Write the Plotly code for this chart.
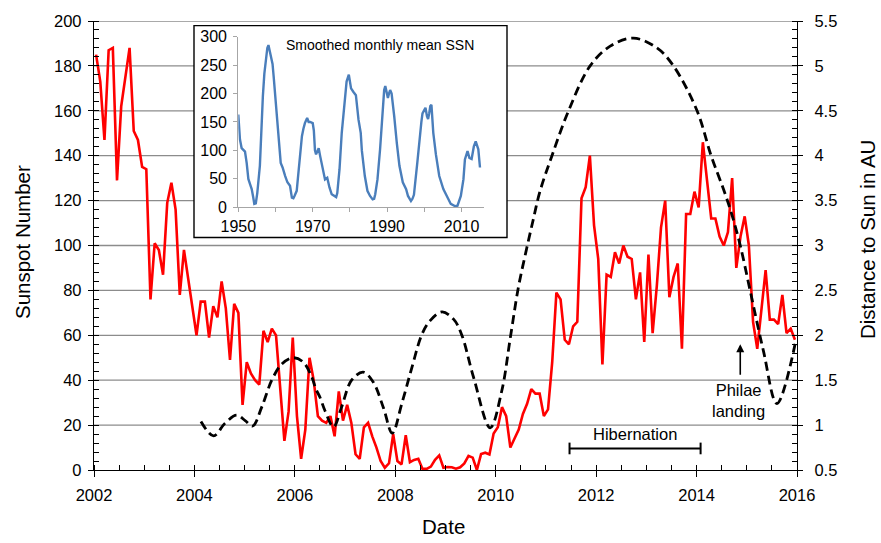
import plotly.graph_objects as go

FONT = "Arial, 'Liberation Sans', sans-serif"

# ---------------------------------------------------------------- data
# Monthly mean sunspot number, January 2002 - December 2015 (one row per year)
ssn_first_year = 2002
sunspot_number = [
    185, 173, 147, 187, 188, 129, 162, 175, 188, 151, 147, 135,   # 2002
    134, 76, 101, 98, 87, 119, 128, 116, 78, 98, 85, 73,          # 2003
    60, 75, 75, 59, 73, 68, 84, 72, 49, 74, 70, 29,               # 2004
    48, 43, 40, 38, 62, 57, 63, 60, 37, 13, 26, 59,               # 2005
    24, 5, 18, 50, 40, 24, 22, 21, 24, 15, 35, 22,                # 2006
    29, 21, 7, 5, 19, 21, 15, 10, 4, 1, 3, 16,                    # 2007
    4, 2.5, 15.5, 3.5, 4.5, 5, 0.5, 0.5, 1.5, 4.5, 6.5, 1,        # 2008
    1.3, 1.2, 0.6, 1.2, 2.9, 6.3, 5.5, 0, 7.1, 7.7, 6.9, 16.3,    # 2009
    19, 28, 24, 10, 14, 18, 25, 29.5, 36, 34, 34, 24,             # 2010
    27, 48, 79, 76, 58, 56, 64, 66, 121, 126, 140, 109,           # 2011
    94, 47, 87, 86, 97, 92, 100, 95, 94, 76, 88, 57,              # 2012
    96, 61, 82, 108, 120, 77, 86, 92, 54, 114, 114, 124,          # 2013
    117, 146, 129, 112, 112, 104, 100, 106, 130, 90, 104, 113,    # 2014
    100, 66, 54, 72, 89, 67, 67, 65, 78, 61, 63, 58,              # 2015
]

# Rosetta heliocentric distance (AU)
rosetta_year = [
    2004.13, 2004.38, 2004.61, 2004.84, 2005.01, 2005.16, 2005.34, 2005.54,
    2005.74, 2005.97, 2006.17, 2006.34, 2006.42, 2006.50, 2006.60, 2006.77,
    2006.93, 2007.13, 2007.36, 2007.56, 2007.76, 2007.94, 2008.13, 2008.33,
    2008.53, 2008.69, 2008.93, 2009.16, 2009.32, 2009.56, 2009.89, 2010.12,
    2010.29, 2010.45, 2010.59, 2010.74, 2010.88, 2011.12, 2011.45, 2011.88,
    2012.28, 2012.74, 2013.21, 2013.54, 2014.01, 2014.29, 2014.54, 2014.70,
    2014.87, 2015.07, 2015.33, 2015.60, 2015.98,
]
rosetta_au = [
    1.04, 0.88, 1.02, 1.11, 1.05, 0.99, 1.20, 1.50,
    1.68, 1.75, 1.70, 1.53, 1.40, 1.31, 1.16, 0.98,
    1.20, 1.50, 1.59, 1.48, 1.20, 0.91, 1.24, 1.64,
    2.01, 2.16, 2.26, 2.18, 2.01, 1.53, 0.97, 1.38,
    1.97, 2.53, 2.90, 3.27, 3.60, 4.00, 4.50, 5.00,
    5.22, 5.31, 5.20, 5.00, 4.50, 4.00, 3.62, 3.35,
    3.00, 2.49, 1.83, 1.24, 1.95,
]

# Smoothed monthly mean sunspot number, 1950 - 2015
smoothed_year = [
    1950.0, 1950.45, 1950.9, 1951.5, 1951.8, 1952.25, 1952.7, 1953.2, 1953.6,
    1954.0, 1954.3, 1954.7, 1955.1, 1955.8, 1956.2, 1956.6, 1957.0, 1957.4,
    1957.8, 1958.1, 1958.4, 1958.7, 1959.2, 1959.5, 1959.9, 1960.5, 1961.0,
    1961.4, 1961.9, 1962.3, 1962.6, 1963.2, 1963.9, 1964.4, 1964.8, 1965.1,
    1965.7, 1966.0, 1966.4, 1966.8, 1967.1, 1967.5, 1967.9, 1968.5, 1968.9,
    1969.3, 1970.0, 1970.3, 1970.6, 1970.9, 1971.3, 1971.6, 1972.0, 1972.4,
    1972.7, 1973.1, 1973.3, 1973.9, 1974.3, 1974.5, 1975.1, 1975.8, 1976.3,
    1976.6, 1977.2, 1977.8, 1978.5, 1979.1, 1979.7, 1980.0, 1980.3, 1980.9,
    1981.3, 1981.6, 1982.3, 1982.9, 1983.2, 1983.4, 1984.0, 1984.7, 1985.4,
    1986.1, 1986.5, 1986.8, 1987.4, 1988.1, 1988.7, 1989.2, 1989.5, 1989.9,
    1990.2, 1990.5, 1990.8, 1991.2, 1991.4, 1991.9, 1992.6, 1993.3, 1994.2,
    1995.1, 1995.6, 1996.0, 1996.4, 1996.8, 1997.2, 1998.1, 1998.7, 1999.2,
    1999.5, 2000.0, 2000.3, 2000.7, 2001.0, 2001.3, 2001.6, 2001.9, 2002.4,
    2003.1, 2004.0, 2005.1, 2006.0, 2007.1, 2008.3, 2008.9, 2009.8, 2010.5,
    2010.9, 2011.6, 2012.1, 2012.7, 2013.3, 2013.8, 2014.5, 2014.95,
]
smoothed_ssn = [
    163, 119, 104, 100, 98, 78, 50, 40, 32,
    18, 6, 7, 25, 73, 140, 195, 235, 258,
    280, 285, 275, 265, 252, 230, 200, 154, 110,
    78, 70, 58, 55, 44, 38, 17, 16, 20,
    29, 50, 78, 105, 125, 138, 148, 157, 150,
    150, 148, 135, 100, 93, 100, 104, 90, 75,
    70, 55, 49, 52, 40, 35, 23, 20, 18,
    25, 67, 131, 183, 221, 233, 215, 209, 203,
    200, 197, 154, 131, 100, 87, 55, 29, 20,
    14, 15, 23, 49, 102, 165, 206, 213, 200,
    192, 200, 206, 200, 190, 160, 113, 73, 44,
    32, 20, 14, 11, 15, 22, 78, 125, 150,
    165, 172, 175, 160, 155, 165, 178, 180, 131,
    93, 55, 32, 20, 6, 2, 3, 20, 49,
    84, 99, 87, 85, 107, 116, 102, 70,
]

ssn_ticks = list(range(0, 201, 20))
hibernation = (2011.47, 2014.08)
philae_landing = 2014.87

month_x = [ssn_first_year + (i + 0.5) / 12 for i in range(len(sunspot_number))]

# ---------------------------------------------------------------- traces
fig = go.Figure()
fig.add_trace(go.Scatter(
    x=month_x, y=sunspot_number, mode="lines",
    line=dict(color="#ff0000", width=2.6), xaxis="x", yaxis="y",
    hoverinfo="skip",
))
fig.add_trace(go.Scatter(
    x=rosetta_year, y=rosetta_au, mode="lines",
    line=dict(color="black", width=2.8, dash="9px,5px", shape="spline", smoothing=1),
    xaxis="x", yaxis="y2", hoverinfo="skip",
))
fig.add_trace(go.Scatter(
    x=smoothed_year, y=smoothed_ssn, mode="lines",
    line=dict(color="#4a7ebb", width=2.4), xaxis="x2", yaxis="y3",
    hoverinfo="skip",
))

# ---------------------------------------------------------------- layout
L, R, T, B = 94, 84, 17, 73
W, H = 881, 543
PW, PH = W - L - R, H - T - B


def px_x(px):
    return (px - L) / PW


def px_y(py):
    return (H - B - py) / PH


tick_font = dict(family=FONT, size=16.5, color="black")
gray = "#a6a6a6"

fig.update_layout(
    width=W, height=H,
    margin=dict(l=L, r=R, t=T, b=B),
    paper_bgcolor="white", plot_bgcolor="white",
    showlegend=False,
    font=dict(family=FONT, size=16, color="black"),
    xaxis=dict(
        range=[2002, 2016], tick0=2002, dtick=2, ticks="outside", ticklen=6,
        tickwidth=1.3, tickcolor="black", showline=True, linecolor="black",
        linewidth=1.3, showgrid=False, zeroline=False, tickfont=tick_font,
        ticklabelstandoff=4,
        minor=dict(dtick=0.5, ticks="inside", ticklen=5, tickwidth=1.1,
                   tickcolor="black", showgrid=False),
    ),
    yaxis=dict(
        range=[0, 200], tickvals=ssn_ticks, ticks="outside", ticklen=5,
        tickwidth=1.3, tickcolor="black", showline=True, linecolor="black",
        linewidth=1.3, showgrid=False, zeroline=False, tickfont=tick_font,
        ticklabelstandoff=3,
        minor=dict(dtick=4, ticks="inside", ticklen=5, tickwidth=1.1,
                   tickcolor="black", showgrid=False),
    ),
    yaxis2=dict(
        range=[0.5, 5.5], dtick=0.5, overlaying="y", side="right", anchor="x",
        ticks="outside", ticklen=5, tickwidth=1.3, tickcolor="black",
        showline=True, linecolor="black", linewidth=1.3, showgrid=False,
        zeroline=False, tickfont=tick_font, ticklabelstandoff=8,
        minor=dict(dtick=0.1, ticks="inside", ticklen=5, tickwidth=1.1,
                   tickcolor="black", showgrid=False),
    ),
    xaxis2=dict(
        domain=[px_x(238.3), px_x(483.9)], anchor="y3", range=[1950, 2016],
        tick0=1950, dtick=20, ticks="outside", ticklen=4, tickcolor=gray,
        showline=True, linecolor=gray, linewidth=1.3, showgrid=False,
        zeroline=False, tickfont=dict(family=FONT, size=16, color="black"),
        minor=dict(dtick=10, ticks="outside", ticklen=4, tickcolor=gray),
    ),
    yaxis3=dict(
        domain=[px_y(205), px_y(32.7)], anchor="x2", range=[0, 300],
        dtick=50, ticks="outside", ticklen=4, tickcolor=gray,
        showline=True, linecolor=gray, linewidth=1.3, showgrid=False,
        zeroline=False, tickfont=dict(family=FONT, size=16, color="black"),
        ticklabelstandoff=3,
    ),
)

shapes = []
# horizontal gridlines of the main panel
for v in ssn_ticks[1:]:
    shapes.append(dict(type="line", xref="paper", yref="y", x0=0, x1=1,
                       y0=v, y1=v, line=dict(color="#8c8c8c", width=1.3),
                       layer="below"))
# framed inset panel
shapes.append(dict(type="rect", xref="paper", yref="paper",
                   x0=px_x(194), x1=px_x(507), y0=px_y(235.5), y1=px_y(21.7),
                   fillcolor="white", line=dict(color="black", width=1.4),
                   layer="below"))
# hibernation interval bar
h0, h1 = hibernation
shapes.append(dict(type="line", xref="x", yref="y", x0=h0, x1=h1, y0=9.6, y1=9.6,
                   line=dict(color="black", width=2)))
for hx in hibernation:
    shapes.append(dict(type="line", xref="x", yref="y", x0=hx, x1=hx,
                       y0=7.0, y1=12.2, line=dict(color="black", width=2)))
fig.update_layout(shapes=shapes)

ann_font = dict(family=FONT, size=16.5, color="black")
title_font = dict(family=FONT, size=20.5, color="black")
fig.update_layout(annotations=[
    dict(text="Sunspot Number", xref="paper", yref="paper", x=px_x(22),
         y=px_y(240), textangle=-90, showarrow=False, font=title_font,
         xanchor="center", yanchor="middle"),
    dict(text="Distance to Sun in AU", xref="paper", yref="paper", x=px_x(867),
         y=px_y(238), textangle=-90, showarrow=False, font=title_font,
         xanchor="center", yanchor="middle"),
    dict(text="Date", xref="paper", yref="paper", x=px_x(443), y=px_y(527),
         showarrow=False, font=title_font, xanchor="center", yanchor="middle"),
    dict(text="Smoothed monthly mean SSN", xref="paper", yref="paper",
         x=px_x(380), y=px_y(41.7), showarrow=False,
         font=dict(family=FONT, size=14, color="black"),
         xanchor="center", yanchor="middle"),
    dict(text="Hibernation", xref="x", yref="y", x=2012.78, y=15.9,
         showarrow=False, font=ann_font, xanchor="center", yanchor="middle"),
    dict(text="Philae<br>landing", xref="x", yref="y", x=2014.84, y=30.9,
         showarrow=False, font=ann_font, xanchor="center", yanchor="middle"),
    dict(text="", xref="x", yref="y", x=philae_landing, y=56.0, ax=0, ay=32,
         showarrow=True, arrowhead=2, arrowsize=1, arrowwidth=1.6,
         arrowcolor="black"),
])

fig.write_html("out.html")
